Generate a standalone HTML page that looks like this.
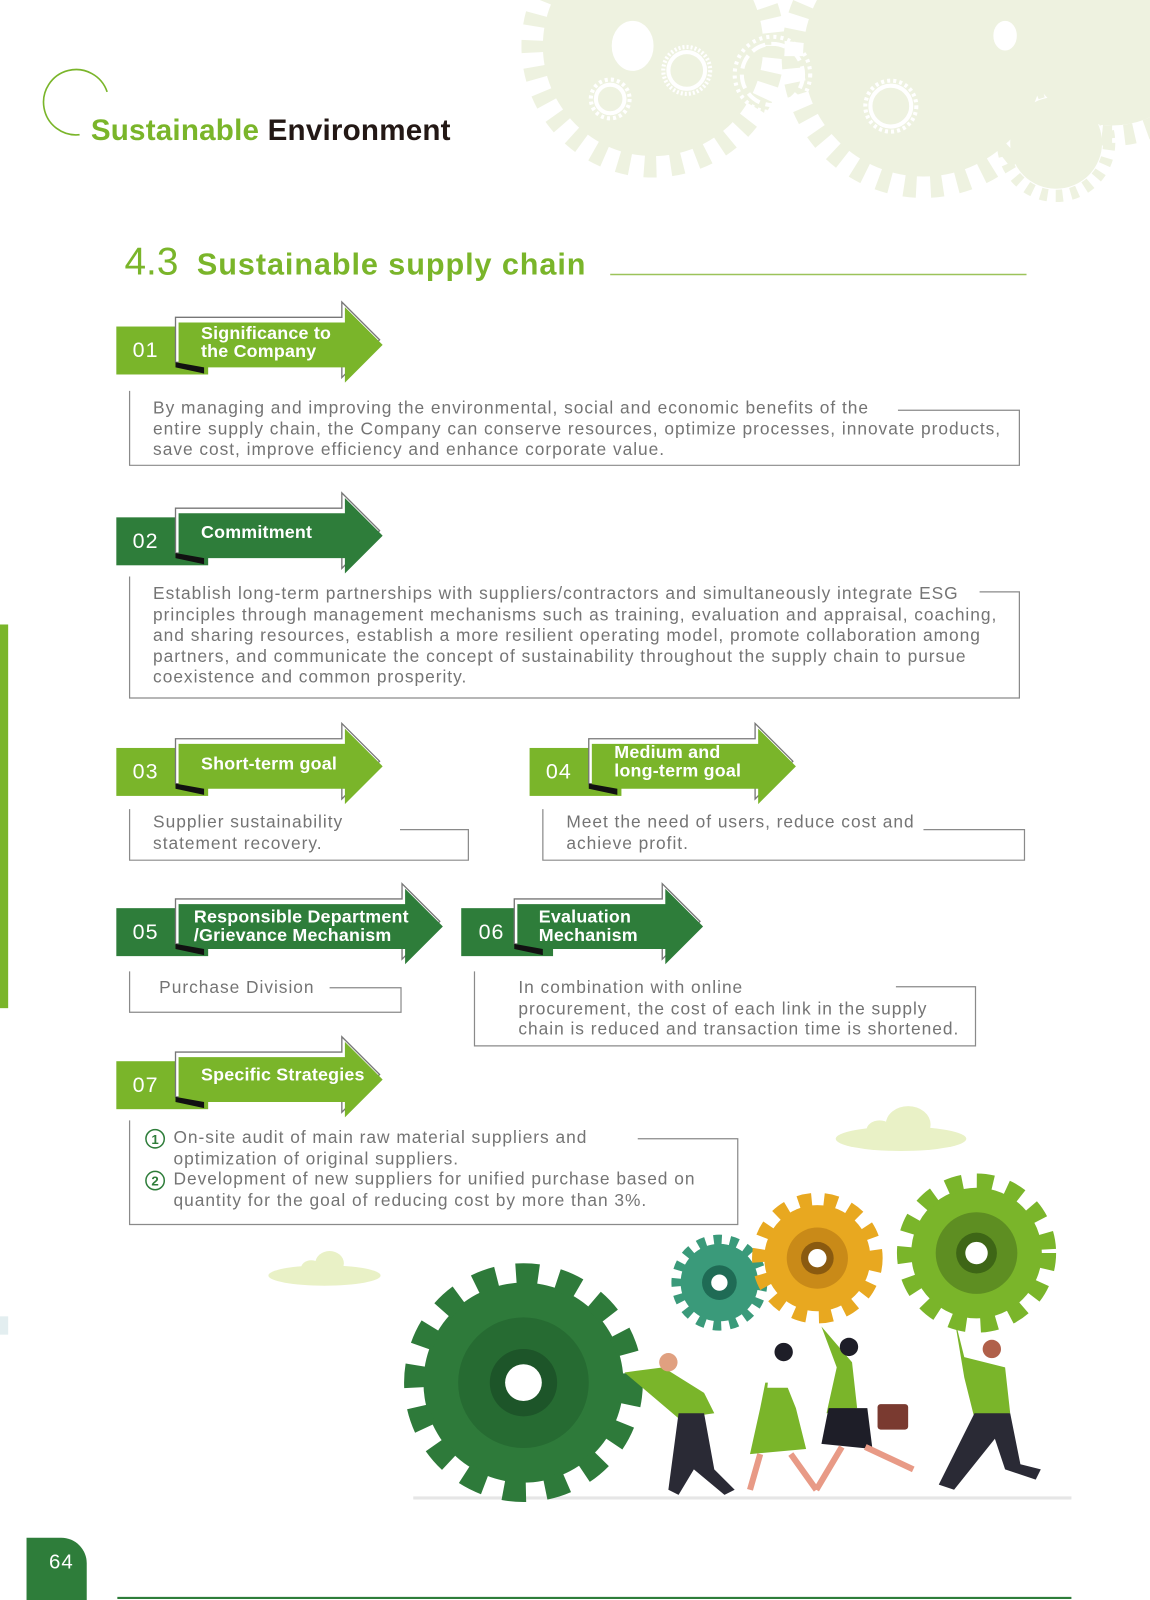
<!DOCTYPE html>
<html><head><meta charset="utf-8"><style>
html,body{margin:0;padding:0;background:#fff;}
#wrap{width:1127px;height:1568px;position:relative;transform:scale(1.0204);transform-origin:0 0;overflow:hidden;font-family:"Liberation Sans",sans-serif;}
.t{position:absolute;font-size:17px;line-height:20.5px;color:#747474;letter-spacing:0.95px;white-space:nowrap;}
.bt{position:absolute;font-weight:bold;font-size:17.5px;line-height:18px;color:#fff;white-space:nowrap;letter-spacing:0.2px;}
.num{position:absolute;font-size:21px;color:#fff;letter-spacing:1px;}
svg{position:absolute;left:0;top:0;}
</style></head><body><div id="wrap">
<svg width="1127" height="1568" viewBox="0 0 1127 1568">
<g fill="#eef2e0">
 <circle cx="640" cy="45" r="108"/>
 <circle cx="640" cy="45" r="118" fill="none" stroke="#eef2e0" stroke-width="22" stroke-dasharray="12 14"/>
 <circle cx="905" cy="55" r="118"/>
 <circle cx="905" cy="55" r="128" fill="none" stroke="#eef2e0" stroke-width="22" stroke-dasharray="12 14"/>
 <circle cx="1090" cy="35" r="88"/>
 <circle cx="1090" cy="35" r="98" fill="none" stroke="#eef2e0" stroke-width="20" stroke-dasharray="10 12"/>
 <circle cx="1035" cy="140" r="45"/>
 <circle cx="1035" cy="140" r="52" fill="none" stroke="#eef2e0" stroke-width="12" stroke-dasharray="7 8"/>
</g>
<g fill="none" stroke="#fff">
 <ellipse cx="620" cy="45" rx="20" ry="24" fill="#fff"/>
 <circle cx="598" cy="97" r="14" stroke-width="4"/>
 <circle cx="598" cy="97" r="19" stroke-width="4" stroke-dasharray="3 3"/>
 <circle cx="673" cy="69" r="18" stroke-width="4"/>
 <circle cx="673" cy="69" r="23" stroke-width="4" stroke-dasharray="2 2"/>
 <circle cx="757" cy="73" r="30" stroke-width="4" stroke-dasharray="14 6"/>
 <circle cx="757" cy="73" r="37" stroke-width="4" stroke-dasharray="3 4"/>
 <circle cx="873" cy="104" r="20" stroke-width="4"/>
 <circle cx="873" cy="104" r="25" stroke-width="4" stroke-dasharray="3 3"/>
 <ellipse cx="985" cy="35" rx="11" ry="14" fill="#fff"/>
</g>
<path d="M105 90 A32 32 0 1 0 78 132" fill="none" stroke="#7ab52a" stroke-width="1.6"/>
<line x1="598" y1="269" x2="1006" y2="269" stroke="#9cc35a" stroke-width="1.5"/>
<rect x="0" y="612" width="8" height="376" fill="#7ab52a"/>
<rect x="0" y="1290" width="8" height="18" fill="#e3eef0"/>
<path d="M26 1568 V1507 H60 A25 25 0 0 1 85 1532 V1568 Z" fill="#2e7d3a"/>
<line x1="115" y1="1566" x2="1050" y2="1566" stroke="#2e7d3a" stroke-width="2"/>

<g fill="none" stroke="#8a8a8a" stroke-width="1.2">
 <polyline points="127,383 127,456 999,456 999,402 880,402"/>
 <polyline points="127,565 127,684 999,684 999,580 960,580"/>
 <polyline points="127,793 127,843 459,843 459,813 392,813"/>
 <polyline points="532,793 532,843 1004,843 1004,813 905,813"/>
 <polyline points="127,952 127,992 393,992 393,968 323,968"/>
 <polyline points="465,952 465,1025 956,1025 956,967 878,967"/>
 <polyline points="127,1098 127,1200 723,1200 723,1116 625,1116"/>
</g>

<defs>
 <g id="arrowL"><polygon points="58,-9 221,-9 221,-24 258,13 221,50 221,35 58,35" fill="#fff" stroke="#777" stroke-width="1.3"/><polygon points="61,-4 224,-4 224,-19 261,18 224,55 224,40 61,40" fill="#7ab52a"/><polygon points="58,35 86,40 86,46 58,40" fill="#111"/></g>
 <g id="arrowD"><polygon points="58,-9 221,-9 221,-24 258,13 221,50 221,35 58,35" fill="#fff" stroke="#777" stroke-width="1.3"/><polygon points="61,-4 224,-4 224,-19 261,18 224,55 224,40 61,40" fill="#2e7d3a"/><polygon points="58,35 86,40 86,46 58,40" fill="#111"/></g>
</defs>
<g transform="translate(114,320)"><rect x="0" y="0" width="90" height="47" fill="#7ab52a"/><use href="#arrowL"/></g>
<g transform="translate(114,507)"><rect x="0" y="0" width="90" height="47" fill="#2e7d3a"/><use href="#arrowD"/></g>
<g transform="translate(114,733)"><rect x="0" y="0" width="90" height="47" fill="#7ab52a"/><use href="#arrowL"/></g>
<g transform="translate(519,733)"><rect x="0" y="0" width="90" height="47" fill="#7ab52a"/><use href="#arrowL"/></g>
<g transform="translate(114,890)"><rect x="0" y="0" width="90" height="47" fill="#2e7d3a"/>
 <polygon points="58,-9 280,-9 280,-24 317,13 280,50 280,35 58,35" fill="#fff" stroke="#777" stroke-width="1.3"/><polygon points="61,-4 283,-4 283,-19 320,18 283,55 283,40 61,40" fill="#2e7d3a"/><polygon points="58,35 86,40 86,46 58,40" fill="#111"/></g>
<g transform="translate(452,890)"><rect x="0" y="0" width="90" height="47" fill="#2e7d3a"/>
 <polygon points="52,-9 197,-9 197,-24 234,13 197,50 197,35 52,35" fill="#fff" stroke="#777" stroke-width="1.3"/><polygon points="55,-4 200,-4 200,-19 237,18 200,55 200,40 55,40" fill="#2e7d3a"/><polygon points="52,35 80,40 80,46 52,40" fill="#111"/></g>
<g transform="translate(114,1040)"><rect x="0" y="0" width="90" height="47" fill="#7ab52a"/><use href="#arrowL"/></g>

<circle cx="152" cy="1116" r="9" fill="none" stroke="#2e7d3a" stroke-width="1.5"/>
<circle cx="152" cy="1157" r="9" fill="none" stroke="#2e7d3a" stroke-width="1.5"/>
<text x="152" y="1121" font-size="13" font-weight="bold" fill="#2e7d3a" text-anchor="middle" font-family="Liberation Sans">1</text>
<text x="152" y="1162" font-size="13" font-weight="bold" fill="#2e7d3a" text-anchor="middle" font-family="Liberation Sans">2</text>

<g fill="#e9f1c6">
 <ellipse cx="318" cy="1250" rx="55" ry="10"/><ellipse cx="323" cy="1238" rx="14" ry="12"/><ellipse cx="305" cy="1243" rx="10" ry="8"/>
 <ellipse cx="883" cy="1116" rx="64" ry="12"/><ellipse cx="890" cy="1102" rx="22" ry="18"/><ellipse cx="862" cy="1108" rx="13" ry="10"/>
</g>
<line x1="405" y1="1468" x2="1050" y2="1468" stroke="#e6e6e6" stroke-width="3"/>
<g>
 <circle cx="513" cy="1355" r="98" fill="#2e7a3a"/>
 <circle cx="513" cy="1355" r="106" fill="none" stroke="#2e7a3a" stroke-width="22" stroke-dasharray="22 19"/>
 <circle cx="513" cy="1355" r="64" fill="#266b32"/>
 <circle cx="513" cy="1355" r="33" fill="#1d5529"/>
 <circle cx="513" cy="1355" r="18" fill="#fff"/>
 <circle cx="705" cy="1257" r="38" fill="#3a9a7a"/>
 <circle cx="705" cy="1257" r="42" fill="none" stroke="#3a9a7a" stroke-width="10" stroke-dasharray="8 8"/>
 <circle cx="705" cy="1257" r="17" fill="#1f6b55"/><circle cx="705" cy="1257" r="8" fill="#fff"/>
 <circle cx="801" cy="1233" r="52" fill="#e8a820"/>
 <circle cx="801" cy="1233" r="57" fill="none" stroke="#e8a820" stroke-width="14" stroke-dasharray="13 12"/>
 <circle cx="801" cy="1233" r="30" fill="#c98a18"/><circle cx="801" cy="1233" r="16" fill="#8a5a10"/><circle cx="801" cy="1233" r="9" fill="#fff"/>
 <circle cx="957" cy="1228" r="64" fill="#7ab52a"/>
 <circle cx="957" cy="1228" r="70" fill="none" stroke="#7ab52a" stroke-width="16" stroke-dasharray="16 14"/>
 <circle cx="957" cy="1228" r="40" fill="#5e8e22"/><circle cx="957" cy="1228" r="20" fill="#3e6616"/><circle cx="957" cy="1228" r="11" fill="#fff"/>
</g>
<g>
 <path d="M612 1345 L650 1340 L690 1365 L700 1385 L665 1390 Z" fill="#7ab52a"/>
 <path d="M665 1385 L690 1385 L700 1440 L720 1460 L710 1465 L680 1440 L665 1465 L655 1460 Z" fill="#2a2a35"/>
 <circle cx="655" cy="1335" r="9" fill="#e0a080"/>
 <path d="M750 1355 L770 1355 L780 1380 L790 1420 L735 1425 L745 1380 Z" fill="#7ab52a"/>
 <path d="M755 1330 L770 1335 L775 1360 L752 1360 Z" fill="#fff"/>
 <circle cx="768" cy="1325" r="9" fill="#1e1e28"/>
 <path d="M745 1425 L735 1460 M775 1425 L800 1460" stroke="#e89a86" stroke-width="6"/>
 <path d="M805 1300 L835 1335 L840 1380 L810 1385 L820 1340 Z" fill="#7ab52a"/>
 <path d="M812 1380 L850 1380 L855 1420 L805 1415 Z" fill="#1e1e28"/>
 <path d="M825 1418 L800 1460 M848 1418 L895 1440" stroke="#e89a86" stroke-width="6"/>
 <rect x="860" y="1376" width="30" height="25" rx="3" fill="#7a3a30"/>
 <circle cx="832" cy="1320" r="9" fill="#1e1e28"/>
 <path d="M935 1290 L945 1330 L985 1340 L990 1385 L955 1390 L945 1350 Z" fill="#7ab52a"/>
 <path d="M955 1385 L990 1385 L1000 1435 L1020 1440 L1015 1450 L985 1440 L975 1410 L935 1460 L920 1455 Z" fill="#2a2a35"/>
 <circle cx="972" cy="1322" r="9" fill="#b0604a"/>
</g>
</svg>

<div style="position:absolute;left:89px;top:112px;font-size:29px;font-weight:bold;letter-spacing:0.2px;"><span style="color:#7ab52a">Sustainable</span> <span style="color:#231815">Environment</span></div>
<div style="position:absolute;left:122px;top:236px;font-size:38px;color:#7ab52a;">4.3</div>
<div style="position:absolute;left:193px;top:243px;font-size:30px;font-weight:bold;color:#7ab52a;letter-spacing:0.9px;">Sustainable supply chain</div>
<div style="position:absolute;left:48px;top:1520px;font-size:20px;color:#fff;letter-spacing:1px;">64</div>

<div class="num" style="left:130px;top:332px">01</div>
<div class="num" style="left:130px;top:519px">02</div>
<div class="num" style="left:130px;top:745px">03</div>
<div class="num" style="left:535px;top:745px">04</div>
<div class="num" style="left:130px;top:902px">05</div>
<div class="num" style="left:469px;top:902px">06</div>
<div class="num" style="left:130px;top:1052px">07</div>

<div class="bt" style="left:197px;top:317px">Significance to<br>the Company</div>
<div class="bt" style="left:197px;top:512px">Commitment</div>
<div class="bt" style="left:197px;top:739px">Short-term goal</div>
<div class="bt" style="left:602px;top:728px">Medium and<br>long-term goal</div>
<div class="bt" style="left:190px;top:889px">Responsible Department<br>/Grievance Mechanism</div>
<div class="bt" style="left:528px;top:889px">Evaluation<br>Mechanism</div>
<div class="bt" style="left:197px;top:1044px">Specific Strategies</div>

<div class="t" style="left:150px;top:390px">By managing and improving the environmental, social and economic benefits of the<br>entire supply chain, the Company can conserve resources, optimize processes, innovate products,<br>save cost, improve efficiency and enhance corporate value.</div>
<div class="t" style="left:150px;top:572px">Establish long-term partnerships with suppliers/contractors and simultaneously integrate ESG<br>principles through management mechanisms such as training, evaluation and appraisal, coaching,<br>and sharing resources, establish a more resilient operating model, promote collaboration among<br>partners, and communicate the concept of sustainability throughout the supply chain to pursue<br>coexistence and common prosperity.</div>
<div class="t" style="left:150px;top:796px">Supplier sustainability<br>statement recovery.</div>
<div class="t" style="left:555px;top:796px">Meet the need of users, reduce cost and<br>achieve profit.</div>
<div class="t" style="left:156px;top:958px">Purchase Division</div>
<div class="t" style="left:508px;top:958px">In combination with online<br>procurement, the cost of each link in the supply<br>chain is reduced and transaction time is shortened.</div>
<div class="t" style="left:170px;top:1105px">On-site audit of main raw material suppliers and<br>optimization of original suppliers.<br>Development of new suppliers for unified purchase based on<br>quantity for the goal of reducing cost by more than 3%.</div>
</div></body></html>
